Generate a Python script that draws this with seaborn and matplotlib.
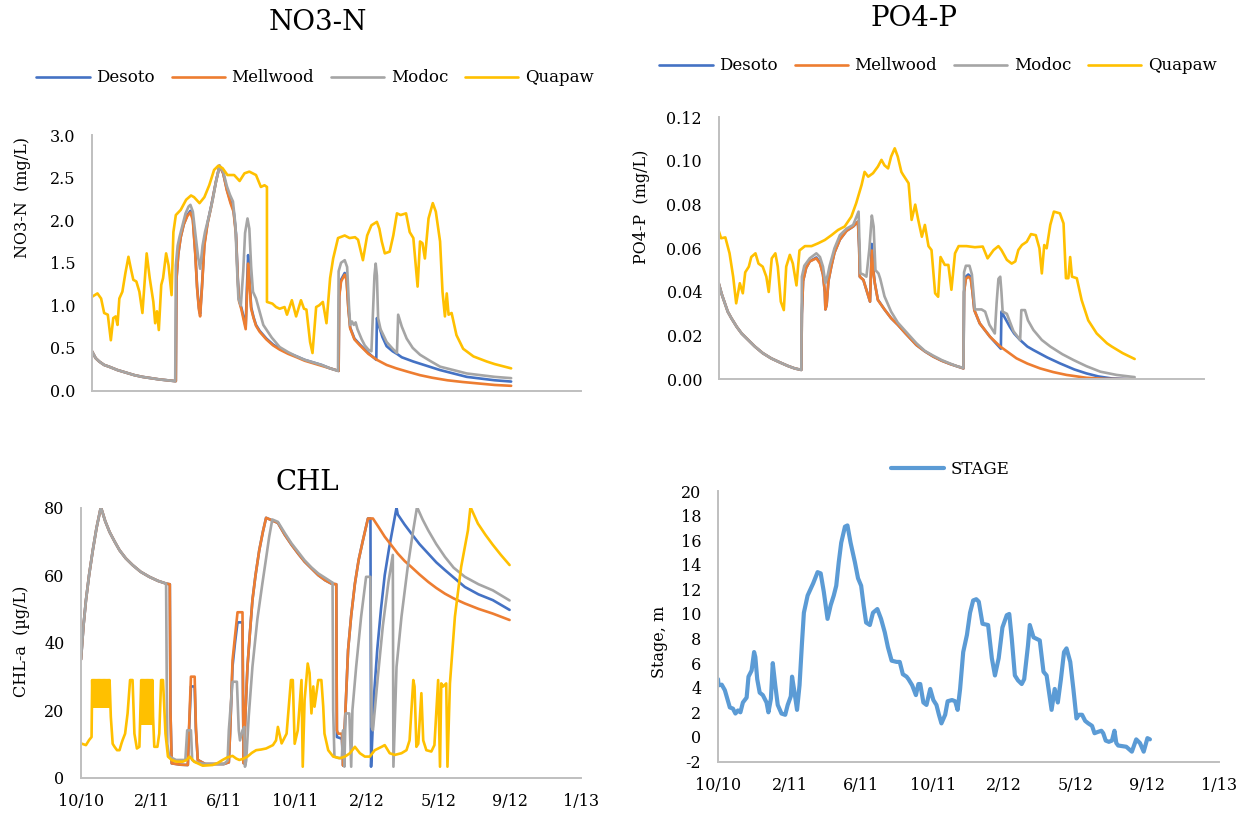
import matplotlib
matplotlib.use("Agg")
import matplotlib.pyplot as plt
import seaborn as sns
import pandas as pd

# sites and colours (Excel default palette)
sites = ["Desoto", "Mellwood", "Modoc", "Quapaw"]
site_colors = ["#4472C4", "#ED7D31", "#A5A5A5", "#FFC000"]
stage_color = "#5B9BD5"

# x axis: days since first tick, one major tick every 115 days
tick_days = [0, 115, 230, 345, 460, 575, 690, 805]
tick_labels = ["10/10", "2/11", "6/11", "10/11", "2/12", "5/12", "9/12", "1/13"]

# ---------------- NO3-N (mg/L), (day, value) ----------------
no3_start = [(0, 0.46), (6, 0.38), (12, 0.34), (20, 0.30), (28, 0.28), (42, 0.24), (56, 0.21),
             (70, 0.18), (83, 0.16), (97, 0.145), (111, 0.13), (124, 0.12), (137, 0.11)]
no3_mellwood = no3_start + [
    (138, 0.11), (139, 1.30), (142, 1.60), (146, 1.80), (151, 1.95), (157, 2.05), (162, 2.09),
    (166, 2.00), (170, 1.60), (173, 1.20), (176, 0.95), (178, 0.87), (181, 1.20), (185, 1.70),
    (190, 1.95), (196, 2.15), (204, 2.45), (210, 2.64), (216, 2.55), (222, 2.35), (228, 2.20),
    (233, 2.10), (237, 1.83), (240, 1.30), (242, 1.05), (246, 0.95), (249, 0.85), (253, 0.72),
    (255, 1.10), (257, 1.49), (259, 1.30), (262, 0.96), (266, 0.85), (270, 0.76), (276, 0.69),
    (287, 0.60), (298, 0.53), (309, 0.48), (323, 0.43), (337, 0.39), (350, 0.35), (364, 0.32),
    (378, 0.29), (392, 0.26), (406, 0.23), (407, 1.10), (410, 1.28), (416, 1.36), (419, 1.30),
    (422, 0.96), (425, 0.73), (432, 0.60), (441, 0.53), (455, 0.43), (469, 0.36), (485, 0.30),
    (501, 0.26), (520, 0.22), (540, 0.18), (560, 0.15), (585, 0.12), (610, 0.10), (640, 0.08),
    (663, 0.065), (690, 0.055)]
no3_desoto = no3_start + [
    (138, 0.11), (139, 1.30), (142, 1.60), (146, 1.80), (151, 1.95), (157, 2.06), (162, 2.11),
    (166, 2.02), (170, 1.62), (173, 1.22), (176, 0.97), (178, 0.90), (181, 1.22), (185, 1.72),
    (190, 1.96), (196, 2.16), (204, 2.45), (210, 2.64), (216, 2.55), (222, 2.36), (228, 2.22),
    (233, 2.12), (237, 1.85), (240, 1.32), (242, 1.07), (246, 0.97), (249, 0.88), (253, 0.75),
    (255, 1.20), (257, 1.59), (259, 1.35), (262, 0.98), (266, 0.86), (270, 0.77), (276, 0.70),
    (287, 0.61), (298, 0.54), (309, 0.49), (323, 0.44), (337, 0.40), (350, 0.36), (364, 0.33),
    (378, 0.30), (392, 0.26), (406, 0.23), (407, 1.12), (410, 1.30), (416, 1.38), (419, 1.32),
    (422, 0.97), (425, 0.74), (432, 0.61), (441, 0.54), (455, 0.44), (468, 0.36), (469, 0.85),
    (472, 0.77), (478, 0.63), (485, 0.52), (495, 0.46), (502, 0.43), (510, 0.39), (529, 0.34),
    (551, 0.29), (573, 0.24), (595, 0.20), (617, 0.16), (640, 0.14), (663, 0.12), (690, 0.105)]
no3_modoc = no3_start + [
    (138, 1.47), (141, 1.70), (144, 1.80), (149, 1.94), (154, 2.08), (159, 2.16), (162, 2.18),
    (166, 2.10), (170, 1.85), (175, 1.55), (178, 1.43), (182, 1.70), (186, 1.86), (193, 2.06),
    (199, 2.25), (204, 2.45), (210, 2.64), (216, 2.57), (222, 2.40), (227, 2.30), (232, 2.22),
    (236, 1.95), (239, 1.40), (241, 1.08), (245, 1.00), (249, 1.40), (252, 1.85), (256, 2.02),
    (259, 1.90), (262, 1.45), (265, 1.16), (270, 1.08), (275, 0.95), (282, 0.77), (296, 0.62),
    (309, 0.51), (323, 0.45), (337, 0.40), (350, 0.36), (364, 0.33), (378, 0.30), (392, 0.26),
    (405, 0.23), (406, 1.40), (410, 1.50), (416, 1.53), (420, 1.45), (423, 1.00), (425, 0.77),
    (428, 0.81), (431, 0.77), (434, 0.80), (437, 0.72), (444, 0.60), (449, 0.53), (455, 0.48),
    (460, 0.46), (463, 1.00), (465, 1.35), (467, 1.49), (469, 1.35), (471, 0.85), (475, 0.72),
    (485, 0.57), (495, 0.49), (502, 0.44), (504, 0.89), (510, 0.75), (518, 0.61), (528, 0.50),
    (540, 0.42), (556, 0.35), (573, 0.28), (595, 0.24), (617, 0.20), (640, 0.18), (663, 0.16),
    (690, 0.145)]
no3_quapaw = [
    (0, 1.10), (9, 1.14), (15, 1.08), (20, 0.91), (26, 0.89), (31, 0.59), (35, 0.85), (39, 0.87),
    (42, 0.77), (45, 1.08), (50, 1.16), (55, 1.38), (60, 1.57), (64, 1.43), (68, 1.30), (73, 1.28),
    (78, 1.16), (83, 0.91), (90, 1.61), (95, 1.32), (101, 1.04), (104, 0.79), (107, 0.93),
    (110, 0.71), (114, 1.24), (117, 1.32), (122, 1.61), (126, 1.47), (131, 1.12), (134, 1.86),
    (138, 2.06), (146, 2.12), (155, 2.24), (163, 2.29), (168, 2.27), (177, 2.20), (185, 2.27),
    (193, 2.41), (201, 2.59), (208, 2.64), (215, 2.61), (223, 2.53), (234, 2.53), (243, 2.46),
    (251, 2.55), (259, 2.57), (270, 2.53), (278, 2.39), (284, 2.41), (288, 2.39), (288, 1.04),
    (297, 1.02), (303, 0.98), (309, 0.96), (317, 0.98), (321, 0.89), (329, 1.06), (336, 0.87),
    (344, 1.06), (349, 0.96), (353, 0.95), (359, 0.57), (363, 0.44), (369, 0.98), (374, 1.00),
    (380, 1.04), (386, 0.79), (392, 1.32), (397, 1.55), (405, 1.79), (416, 1.82), (424, 1.79),
    (433, 1.80), (438, 1.77), (446, 1.53), (453, 1.82), (460, 1.94), (469, 1.98), (473, 1.90),
    (477, 1.75), (482, 1.61), (490, 1.63), (496, 1.82), (502, 2.08), (508, 2.06), (517, 2.08),
    (523, 1.86), (529, 1.79), (536, 1.22), (540, 1.75), (544, 1.73), (548, 1.55), (554, 2.02),
    (561, 2.20), (566, 2.10), (573, 1.75), (577, 1.16), (581, 0.87), (584, 1.14), (587, 0.89),
    (592, 0.91), (600, 0.65), (611, 0.49), (628, 0.40), (650, 0.34), (663, 0.31), (690, 0.26)]

# ---------------- PO4-P (mg/L) ----------------
po4_start = [(0, 0.044), (5, 0.039), (10, 0.035), (15, 0.031), (21, 0.028), (30, 0.024),
             (38, 0.021), (49, 0.018), (60, 0.015), (73, 0.012), (87, 0.0096), (101, 0.0078),
             (115, 0.0061), (126, 0.005), (137, 0.0043)]
po4_mellwood = po4_start + [
    (138, 0.030), (140, 0.045), (145, 0.051), (151, 0.054), (162, 0.0554), (168, 0.053),
    (173, 0.048), (176, 0.040), (177, 0.032), (179, 0.034), (182, 0.045), (187, 0.052),
    (192, 0.058), (201, 0.064), (212, 0.068), (223, 0.070), (231, 0.0722), (233, 0.060),
    (234, 0.047), (240, 0.0455), (245, 0.041), (251, 0.0356), (254, 0.059), (257, 0.048),
    (259, 0.044), (264, 0.0363), (275, 0.032), (286, 0.028), (297, 0.025), (310, 0.021),
    (328, 0.0157), (342, 0.0128), (356, 0.0104), (370, 0.0085), (384, 0.007), (406, 0.005),
    (407, 0.040), (410, 0.046), (414, 0.047), (418, 0.046), (421, 0.040), (424, 0.0317),
    (433, 0.0256), (450, 0.0195), (467, 0.015), (494, 0.0096), (512, 0.0072), (533, 0.005),
    (555, 0.0033), (577, 0.002), (610, 0.0007), (640, 0.0002), (690, 0.0)]
po4_desoto = po4_start + [
    (138, 0.030), (140, 0.045), (145, 0.051), (151, 0.054), (162, 0.0558), (168, 0.0535),
    (173, 0.048), (176, 0.040), (177, 0.032), (179, 0.034), (182, 0.045), (187, 0.052),
    (192, 0.058), (201, 0.064), (212, 0.068), (223, 0.070), (231, 0.0722), (233, 0.060),
    (234, 0.047), (240, 0.0455), (245, 0.041), (251, 0.0356), (254, 0.062), (257, 0.049),
    (259, 0.044), (264, 0.0365), (275, 0.032), (286, 0.028), (297, 0.025), (310, 0.021),
    (328, 0.0157), (342, 0.0128), (356, 0.0104), (370, 0.0085), (384, 0.007), (406, 0.005),
    (407, 0.040), (410, 0.047), (414, 0.048), (418, 0.047), (421, 0.040), (424, 0.0317),
    (433, 0.0256), (450, 0.0195), (468, 0.014), (469, 0.031), (473, 0.029), (483, 0.024),
    (490, 0.021), (500, 0.018), (512, 0.015), (522, 0.0134), (545, 0.010), (566, 0.0073),
    (590, 0.0045), (610, 0.0027), (630, 0.0013), (652, 0.0004), (690, 0.0)]
po4_modoc = po4_start + [
    (138, 0.047), (142, 0.052), (151, 0.0554), (162, 0.0577), (168, 0.056), (173, 0.0516),
    (177, 0.044), (181, 0.048), (184, 0.052), (192, 0.060), (201, 0.066), (212, 0.069),
    (223, 0.0707), (232, 0.0768), (235, 0.0485), (240, 0.048), (245, 0.047), (250, 0.060),
    (254, 0.075), (257, 0.070), (260, 0.050), (265, 0.0485), (268, 0.046), (275, 0.038),
    (286, 0.031), (297, 0.026), (310, 0.022), (328, 0.0165), (342, 0.013), (356, 0.0108),
    (370, 0.0088), (384, 0.0072), (395, 0.006), (406, 0.0052), (407, 0.049), (410, 0.052),
    (416, 0.052), (420, 0.048), (425, 0.032), (431, 0.032), (436, 0.032), (442, 0.031),
    (449, 0.025), (458, 0.021), (461, 0.035), (464, 0.046), (467, 0.047), (469, 0.040),
    (471, 0.031), (478, 0.030), (489, 0.022), (500, 0.018), (502, 0.0317), (508, 0.0317),
    (513, 0.027), (522, 0.0226), (536, 0.018), (550, 0.015), (570, 0.0115), (588, 0.0089),
    (610, 0.006), (633, 0.0035), (660, 0.002), (690, 0.001)]
po4_quapaw = [
    (0, 0.068), (4, 0.0646), (11, 0.065), (18, 0.0577), (24, 0.047), (29, 0.0348), (35, 0.044),
    (40, 0.0394), (44, 0.049), (50, 0.0516), (54, 0.056), (61, 0.0577), (66, 0.053),
    (73, 0.0516), (79, 0.047), (83, 0.040), (88, 0.0554), (94, 0.0577), (98, 0.0516),
    (103, 0.0356), (108, 0.0317), (112, 0.0516), (118, 0.057), (123, 0.053), (129, 0.043),
    (134, 0.059), (143, 0.061), (154, 0.061), (165, 0.0623), (176, 0.0638), (187, 0.066),
    (198, 0.0684), (209, 0.070), (220, 0.0745), (228, 0.0806), (237, 0.089), (242, 0.095),
    (248, 0.0928), (256, 0.0944), (264, 0.0974), (270, 0.1005), (275, 0.098), (281, 0.0966),
    (286, 0.102), (292, 0.1058), (297, 0.102), (303, 0.095), (306, 0.0936), (315, 0.0898),
    (320, 0.073), (326, 0.080), (331, 0.073), (337, 0.0653), (342, 0.0707), (348, 0.061),
    (353, 0.0592), (359, 0.0394), (364, 0.0378), (368, 0.056), (375, 0.0524), (381, 0.0524),
    (386, 0.041), (392, 0.0577), (398, 0.061), (411, 0.061), (425, 0.0605), (438, 0.0608),
    (446, 0.0554), (456, 0.0592), (464, 0.061), (469, 0.0592), (478, 0.0547), (486, 0.053),
    (492, 0.054), (497, 0.0592), (503, 0.0615), (511, 0.063), (518, 0.0665), (526, 0.066),
    (532, 0.060), (536, 0.0485), (540, 0.0615), (544, 0.060), (550, 0.0707), (556, 0.0768),
    (566, 0.076), (572, 0.0714), (576, 0.0463), (580, 0.0463), (583, 0.056), (586, 0.047),
    (594, 0.0463), (602, 0.0363), (613, 0.027), (627, 0.021), (644, 0.0165), (652, 0.015),
    (670, 0.012), (690, 0.0093)]

# ---------------- CHL-a (ug/L) ----------------
chl_start = [(0, 35), (4, 45), (8, 52.6), (13, 60), (19, 67.4), (25, 74), (32, 80.2), (39, 76),
             (46, 72.8), (54, 70), (62, 67.4), (72, 65), (83, 63), (96, 61), (110, 59.5),
             (124, 58.3), (137, 57.5)]
chl_mellwood = chl_start + [
    (143, 57.3), (144, 20), (146, 4.2), (160, 3.8), (172, 3.7), (174, 15), (177, 29.9),
    (183, 29.9), (185, 15), (188, 5.2), (200, 4), (230, 4), (238, 4.5), (240, 13), (244, 34.8),
    (248, 42), (252, 49), (260, 49), (261, 20), (262, 4.2), (265, 20), (268, 32.8), (272, 43),
    (276, 52.6), (281, 60), (287, 67.4), (293, 73), (298, 77), (317, 75.5), (328, 72),
    (339, 69), (350, 66.3), (360, 64), (371, 62), (382, 60), (393, 58.5), (403, 57.5),
    (411, 57.3), (412, 14), (414, 13), (420, 13), (422, 3.5), (424, 13), (427, 25), (430, 37.8),
    (435, 48), (441, 57.5), (447, 64.5), (454, 70.4), (462, 76.8), (470, 76.8), (480, 74),
    (489, 71.4), (500, 68.8), (510, 66.4), (521, 64.2), (532, 62.4), (545, 60.2), (559, 58),
    (572, 56.2), (586, 54.5), (600, 53.1), (618, 51.6), (640, 50), (663, 48.6), (690, 46.7)]
chl_desoto = chl_start + [
    (143, 57.3), (144, 20), (146, 4.2), (160, 3.8), (172, 3.7), (174, 14), (177, 27),
    (183, 27), (185, 14), (188, 5.2), (200, 4), (230, 4), (238, 4.5), (240, 13), (244, 33),
    (248, 40), (252, 46), (260, 46), (261, 20), (262, 4.2), (265, 20), (268, 32.8), (272, 43),
    (276, 52.6), (281, 60), (287, 67.4), (293, 73), (298, 77), (317, 75.5), (328, 72),
    (339, 69), (350, 66.3), (360, 64), (371, 62), (382, 60), (393, 58.5), (403, 57.5),
    (411, 57.3), (412, 12), (420, 11.5), (422, 3.5), (424, 12), (427, 25), (430, 37.8),
    (435, 48), (441, 57.5), (447, 64.5), (454, 70.4), (462, 76.8), (466, 76.8), (467, 3.2),
    (469, 12), (472, 25), (477, 38), (483, 50), (489, 60), (496, 68), (503, 75), (508, 80),
    (510, 78), (521, 75), (532, 72.3), (545, 69.2), (559, 66.4), (572, 63.8), (586, 61.5),
    (600, 59.3), (618, 56.5), (640, 54.3), (663, 52.6), (690, 49.7)]
chl_modoc = chl_start + [
    (138, 30), (139, 10), (142, 6.2), (153, 5.2), (168, 5.2), (171, 14), (177, 14), (179, 5.2),
    (185, 4.5), (200, 4), (230, 4), (236, 5), (238, 14), (244, 28.4), (251, 28.4), (254, 14),
    (256, 11), (260, 14), (263, 15), (264, 3.2), (266, 5), (270, 18), (276, 32.8), (284, 47),
    (292, 57.5), (298, 65), (303, 71.4), (308, 76.5), (317, 75.8), (328, 72.5), (339, 69.4),
    (350, 66.8), (360, 64.4), (371, 62.3), (382, 60.5), (393, 59.2), (403, 58), (405, 57.8),
    (406, 20), (408, 6.2), (414, 5.8), (420, 5.8), (422, 14), (424, 3.2), (426, 19), (432, 19),
    (435, 3.2), (437, 20), (443, 32.8), (451, 47.7), (459, 59.5), (466, 59.5), (468, 15),
    (470, 14), (478, 30), (486, 45), (495, 58), (502, 66), (503, 3.2), (508, 32.8), (516, 47.7),
    (526, 62.4), (534, 72.3), (541, 80.2), (550, 76.5), (559, 73.3), (572, 69.2), (586, 65.4),
    (600, 62.2), (618, 59.5), (640, 57.3), (663, 55.5), (690, 52.5)]
chl_quapaw = [
    (0, 10.1), (8, 9.6), (13, 11.1), (17, 12), (18, 28.9), (19, 21), (20, 28.9), (21, 21),
    (22, 28.9), (23, 21), (24, 28.9), (25, 21), (26, 28.9), (27, 21), (28, 28.9), (29, 21),
    (30, 28.9), (31, 21), (32, 28.9), (33, 21), (34, 28.9), (35, 21), (36, 28.9), (37, 21),
    (38, 28.9), (39, 21), (40, 28.9), (41, 21), (42, 28.9), (43, 21), (44, 28.9), (45, 21),
    (46, 28.9), (48, 18), (51, 10), (54, 9.1), (58, 8.1), (62, 8.1), (65, 10), (67, 11.1),
    (71, 13), (75, 19), (79, 28.9), (83, 28.9), (86, 13), (90, 8.6), (94, 9.1), (97, 28.9),
    (98, 16), (99, 28.9), (100, 16), (101, 28.9), (102, 16), (103, 28.9), (104, 16), (105, 28.9),
    (106, 16), (107, 28.9), (108, 16), (109, 28.9), (110, 16), (111, 28.9), (112, 16),
    (113, 28.9), (114, 16), (115, 28.9), (116, 18), (118, 9.1), (123, 9.1), (126, 13),
    (129, 28.9), (132, 28.9), (136, 13), (140, 6.2), (146, 5.2), (153, 4.7), (164, 4.7),
    (170, 5.2), (175, 6.2), (182, 4.7), (190, 4), (196, 3.5), (212, 3.7), (220, 4.3),
    (228, 5.2), (236, 6), (244, 6.4), (250, 5.6), (255, 5.2), (262, 5.6), (268, 6.2), (275, 7.3),
    (282, 8.1), (290, 8.3), (298, 8.6), (309, 9.6), (314, 11), (317, 15), (323, 10.1), (331, 13),
    (338, 28.9), (341, 28.9), (344, 10), (349, 14), (355, 28.9), (357, 3.2), (360, 23),
    (365, 33.8), (368, 31), (371, 19), (374, 27), (376, 21), (382, 28.9), (387, 28.9), (390, 21),
    (392, 13), (398, 8.1), (406, 6.2), (417, 5.7), (425, 6.2), (433, 7.2), (441, 9.1),
    (449, 7.2), (457, 6.2), (465, 6.2), (473, 8.1), (484, 9.1), (489, 9.6), (497, 7.2),
    (505, 6.7), (516, 7.2), (524, 8.1), (529, 11), (535, 28.9), (537, 27), (540, 9.1), (543, 10),
    (548, 25), (551, 11), (556, 8.1), (564, 7.7), (569, 9.6), (575, 28.9), (578, 3.2),
    (580, 27.9), (583, 27), (588, 27.9), (590, 3.2), (594, 27.9), (602, 47.7), (612, 62.4),
    (623, 73.3), (627, 80.2), (639, 75.3), (651, 72), (663, 69), (676, 66), (690, 63)]

# ---------------- river stage (m) ----------------
stage = [
    (0, 4.7), (1, 4.2), (6, 4.25), (11, 3.8), (15, 3.1), (19, 2.4), (24, 2.3), (28, 1.9),
    (32, 2.15), (36, 2.0), (40, 2.8), (46, 3.2), (49, 4.9), (54, 5.4), (58, 6.9), (60, 6.5),
    (63, 4.7), (67, 3.6), (72, 3.4), (78, 2.8), (81, 2.0), (85, 3.1), (88, 6.0), (92, 4.2),
    (96, 2.6), (102, 1.9), (108, 1.8), (112, 2.6), (117, 3.3), (119, 4.9), (123, 3.6),
    (127, 2.2), (131, 4.2), (135, 7.7), (138, 10.1), (144, 11.5), (153, 12.5), (160, 13.4),
    (165, 13.3), (170, 11.8), (176, 9.6), (181, 10.7), (186, 11.5), (190, 12.3), (194, 14.2),
    (198, 15.8), (204, 17.1), (208, 17.2), (213, 15.8), (220, 14.2), (225, 12.9), (230, 12.3),
    (234, 10.7), (238, 9.3), (244, 9.1), (249, 10.1), (256, 10.4), (262, 9.6), (268, 8.5),
    (273, 7.3), (279, 6.2), (287, 6.1), (292, 6.1), (297, 5.1), (303, 4.9), (306, 4.7),
    (312, 4.2), (318, 3.4), (322, 4.3), (325, 4.3), (330, 2.8), (335, 2.6), (341, 3.9),
    (346, 3.0), (351, 2.6), (355, 1.8), (359, 1.1), (365, 1.8), (369, 2.9), (376, 3.0),
    (381, 2.9), (385, 2.2), (389, 3.9), (394, 6.9), (400, 8.3), (405, 10.1), (410, 11.1),
    (415, 11.2), (419, 11.0), (425, 9.2), (434, 9.1), (440, 6.4), (445, 5.0), (451, 6.4),
    (457, 8.9), (464, 9.9), (468, 10.0), (472, 8.0), (477, 5.0), (482, 4.6), (488, 4.3),
    (492, 4.7), (498, 7.4), (501, 9.1), (507, 8.1), (512, 7.98), (517, 7.85), (523, 5.3),
    (528, 5.0), (532, 3.6), (536, 2.2), (541, 3.9), (546, 2.8), (551, 4.7), (556, 6.9),
    (560, 7.2), (566, 6.1), (571, 3.9), (576, 1.5), (580, 1.8), (585, 1.8), (590, 1.3),
    (595, 1.1), (601, 0.9), (605, 0.3), (610, 0.4), (616, 0.5), (619, 0.3), (623, -0.3),
    (628, -0.4), (633, -0.3), (637, 0.5), (640, -0.5), (643, -0.7), (656, -0.8), (665, -1.2),
    (672, -0.2), (678, -0.5), (684, -1.2), (690, -0.1), (694, -0.2)]


def to_frame(series):
    rows = []
    for name, pts in series.items():
        for d, v in pts:
            rows.append((name, d, v))
    return pd.DataFrame(rows, columns=["site", "day", "value"])


def draw(ax, series, colors, lw):
    df = to_frame(series)
    sns.lineplot(data=df, x="day", y="value", hue="site", hue_order=list(series),
                 palette=colors, estimator=None, sort=False, linewidth=lw,
                 legend=False, ax=ax)


def style(ax, ylim, yticks, fmt, ylabel, label_xy, bottom):
    ax.set_xlim(0, 805)
    ax.set_ylim(*ylim)
    ax.set_xticks(tick_days)
    ax.set_yticks(yticks)
    ax.set_yticklabels([fmt.format(v) for v in yticks])
    ax.set_xlabel("")
    ax.set_ylabel(ylabel, fontsize=11.5, color="black")
    ax.yaxis.set_label_coords(*label_xy)
    for side in ["top", "right"]:
        ax.spines[side].set_visible(False)
    for side in ["left", "bottom"]:
        ax.spines[side].set_color("#BFBFBF")
        ax.spines[side].set_linewidth(1.4)
    ax.tick_params(axis="y", length=0, pad=12, labelsize=11.5, labelcolor="black")
    if bottom:
        ax.set_xticklabels(tick_labels)
        ax.tick_params(axis="x", length=0, pad=11, labelsize=11.5, labelcolor="black")
    else:
        ax.set_xticklabels([])
        ax.tick_params(axis="x", direction="in", length=4, width=1.2, color="#BFBFBF")


sns.set_style("white")
plt.rcParams["font.family"] = ["DejaVu Serif"]
plt.rcParams["text.color"] = "black"
plt.rcParams["lines.solid_joinstyle"] = "round"
plt.rcParams["lines.solid_capstyle"] = "round"

fig = plt.figure(figsize=(12.47, 8.14), dpi=100)
W, H = 1247, 814


def axes_px(x0, x1, ytop, ybot):
    return fig.add_axes([x0 / W, 1 - ybot / H, (x1 - x0) / W, (ybot - ytop) / H])


ax_no3 = axes_px(92, 581, 135, 390.5)
ax_po4 = axes_px(718.7, 1204, 117.3, 379.3)
ax_chl = axes_px(81, 581, 507.7, 777.5)
ax_stg = axes_px(718, 1219, 491, 761.5)

draw(ax_no3, dict(zip(sites, [no3_desoto, no3_mellwood, no3_modoc, no3_quapaw])), site_colors, 1.9)
draw(ax_po4, dict(zip(sites, [po4_desoto, po4_mellwood, po4_modoc, po4_quapaw])), site_colors, 1.9)
draw(ax_chl, dict(zip(sites, [chl_desoto, chl_mellwood, chl_modoc, chl_quapaw])), site_colors, 1.9)
draw(ax_stg, {"STAGE": stage}, [stage_color], 3.0)

style(ax_no3, (0, 3.0), [0, 0.5, 1.0, 1.5, 2.0, 2.5, 3.0], "{:.1f}", "NO3-N  (mg/L)",
      (-0.125, 0.757), False)
style(ax_po4, (0, 0.12), [0, 0.02, 0.04, 0.06, 0.08, 0.10, 0.12], "{:.2f}", "PO4-P  (mg/L)",
      (-0.142, 0.658), False)
style(ax_chl, (0, 80), [0, 20, 40, 60, 80], "{:.0f}", "CHL-a  (\u00b5g/L)",
      (-0.102, 0.506), True)
style(ax_stg, (-2, 20), list(range(-2, 21, 2)), "{:.0f}", "Stage, m",
      (-0.1, 0.442), True)

# titles
fig.text(318 / W, 1 - 22 / H, "NO3-N", ha="center", va="center", fontsize=20)
fig.text(914 / W, 1 - 18 / H, "PO4-P", ha="center", va="center", fontsize=20)
fig.text(307 / W, 1 - 483 / H, "CHL", ha="center", va="center", fontsize=20)

# legends
leg_kw = dict(loc="center", frameon=False, fontsize=12, handlelength=3.2,
              handletextpad=0.4, columnspacing=1.0, labelcolor="black")
fig.legend(ax_no3.get_lines()[:4], sites, ncol=4, bbox_to_anchor=(315 / W, 1 - 78 / H), **leg_kw)
fig.legend(ax_po4.get_lines()[:4], sites, ncol=4, bbox_to_anchor=(938 / W, 1 - 66 / H), **leg_kw)
fig.legend(ax_stg.get_lines()[:1], ["STAGE"], ncol=1, bbox_to_anchor=(950 / W, 1 - 469 / H), **leg_kw)

fig.savefig("out.png", dpi=100)
